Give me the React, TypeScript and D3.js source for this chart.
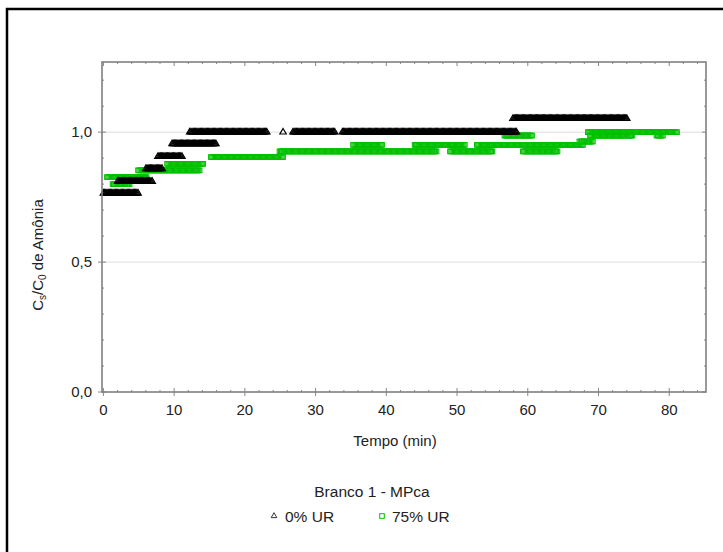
import React from "react";
import * as d3 from "d3";

// 0% UR (triangles): runs of constant reading [start min, end min, level]
const dryStart = [0.0, 2.0, 6.0, 7.7, 9.7, 12.2, 25.4, 26.8, 33.8, 57.9];
const dryEnd = [4.9, 6.9, 8.3, 11.1, 15.9, 23.1, 25.4, 32.7, 58.4, 74.0];
const dryLevel = [0.765, 0.81, 0.859, 0.906, 0.955, 1.0, 1.0, 1.0, 1.0, 1.052];

// 75% UR (squares)
const wetStart = [0.5, 1.3, 4.9, 9.0, 15.2, 24.9, 49.0, 59.3, 35.3, 44.0, 52.8, 56.7, 68.8, 78.2, 68.5, 67.3];
const wetEnd = [6.1, 3.7, 13.6, 14.1, 25.4, 47.1, 55.0, 64.2, 39.4, 51.1, 67.8, 60.6, 74.8, 79.1, 81.1, 69.2];
const wetLevel = [0.827, 0.8, 0.853, 0.878, 0.904, 0.926, 0.926, 0.926, 0.951, 0.951, 0.951, 0.987, 0.987, 0.987, 1.0, 0.964];

const xTicks = [0, 10, 20, 30, 40, 50, 60, 70, 80];
const yTicks = [0, 0.5, 1.0];
const yTickLabels = ["0,0", "0,5", "1,0"];
const sampleStep = 1 / 6; // readings every 10 s

const W = 723;
const H = 552;
const left = 102, right = 706, top = 62, bottom = 392;

function expand(starts: number[], ends: number[], levels: number[]) {
  const pts: { t: number; v: number }[] = [];
  starts.forEach((s, i) => {
    const e = ends[i];
    const n = Math.max(0, Math.round((e - s) / sampleStep));
    for (let k = 0; k <= n; k++) pts.push({ t: n === 0 ? s : s + ((e - s) * k) / n, v: levels[i] });
  });
  return pts;
}

export default function App() {
  const x = d3.scaleLinear().domain([-0.2, 85.2]).range([left, right]);
  const y = d3.scaleLinear().domain([0, 1.27]).range([bottom, top]);
  const dry = expand(dryStart, dryEnd, dryLevel);
  const wet = expand(wetStart, wetEnd, wetLevel);
  const tri = d3.symbol().type(d3.symbolTriangle).size(18)()!;
  const triLegend = d3.symbol().type(d3.symbolTriangle).size(14)()!;
  const font = "'Liberation Sans', Arial, sans-serif";
  const minorX = d3.range(0, 86, 2);
  const minorY = d3.range(0, 1.27, 0.1);
  const green = "#00c000";
  return (
    <svg width={W} height={H} style={{ position: "absolute", left: 0, top: 0, background: "#fff" }} fontFamily={font}>
      <rect x={7} y={9} width={800} height={800} fill="none" stroke="#000" strokeWidth={2.5} />
      {yTicks.slice(1).map((v) => (
        <line key={v} x1={left} x2={right} y1={y(v)} y2={y(v)} stroke="#dcdcdc" strokeWidth={1} />
      ))}
      {minorX.map((t) => (
        <g key={"mx" + t}>
          <line x1={x(t)} x2={x(t)} y1={bottom} y2={bottom - (t % 10 === 0 ? 4 : 2)} stroke="#888" />
          <line x1={x(t)} x2={x(t)} y1={top} y2={top + (t % 10 === 0 ? 4 : 2)} stroke="#888" />
        </g>
      ))}
      {minorY.map((v, i) => (
        <g key={"my" + i}>
          <line x1={left} x2={left + (i % 5 === 0 ? 4 : 2)} y1={y(v)} y2={y(v)} stroke="#888" />
          <line x1={right} x2={right - (i % 5 === 0 ? 4 : 2)} y1={y(v)} y2={y(v)} stroke="#888" />
        </g>
      ))}
      {yTicks.map((v) => (
        <line key={"yt" + v} x1={left - 4} x2={left} y1={y(v)} y2={y(v)} stroke="#888" />
      ))}
      {xTicks.map((t) => (
        <line key={"xt" + t} x1={x(t)} x2={x(t)} y1={bottom} y2={bottom + 4} stroke="#888" />
      ))}
      {wet.map((p, i) => (
        <rect key={"w" + i} x={x(p.t) - 2.3} y={y(p.v) - 2.3} width={4.6} height={4.6} fill="none" stroke={green} strokeWidth={1.1} />
      ))}
      {dry.map((p, i) => (
        <path key={"d" + i} d={tri} transform={`translate(${x(p.t)},${y(p.v)})`} fill="none" stroke="#000" strokeWidth={1.2} />
      ))}
      <rect x={left} y={top} width={right - left} height={bottom - top} fill="none" stroke="#808080" strokeWidth={1.6} />
      {xTicks.map((t) => (
        <text key={"xl" + t} x={x(t)} y={415} textAnchor="middle" fontSize={15} fill="#222">{t}</text>
      ))}
      {yTicks.map((v, i) => (
        <text key={"yl" + v} x={92} y={y(v) + 5} textAnchor="end" fontSize={15} fill="#222">{yTickLabels[i]}</text>
      ))}
      <text x={395} y={446} textAnchor="middle" fontSize={15} fill="#222">Tempo (min)</text>
      <text transform={`translate(43,255) rotate(-90)`} textAnchor="middle" fontSize={15} fill="#222">
        C<tspan fontSize={10} dy={3}>s</tspan><tspan dy={-3}>/C</tspan><tspan fontSize={10} dy={3}>0</tspan><tspan dy={-3}> de Amônia</tspan>
      </text>
      <text x={372} y={497} textAnchor="middle" fontSize={15.5} fill="#222">Branco 1 - MPca</text>
      <path d={triLegend} transform="translate(274,516)" fill="none" stroke="#333" strokeWidth={1} />
      <text x={285} y={522} fontSize={15.5} fill="#222">0% UR</text>
      <rect x={379.7} y={513.7} width={4.6} height={4.6} fill="none" stroke={green} strokeWidth={1} />
      <text x={392} y={522} fontSize={15.5} fill="#222">75% UR</text>
    </svg>
  );
}
